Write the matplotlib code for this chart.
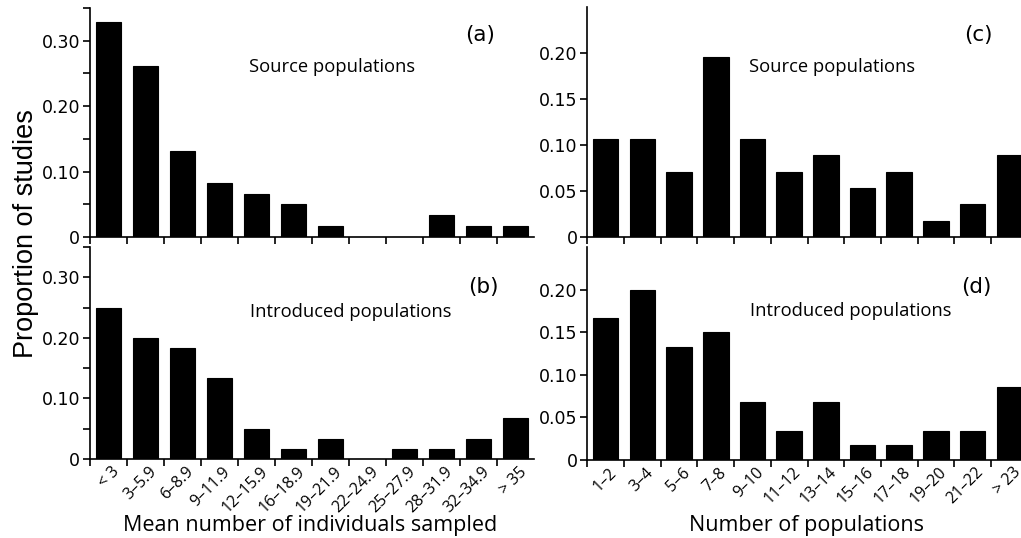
import matplotlib
matplotlib.use("Agg")
from matplotlib import pyplot as plt
from matplotlib.ticker import MultipleLocator
import matplotlib.transforms as mtransforms
import numpy as np

# panel (a)/(b): mean number of individuals sampled
size_labels = ["< 3", "3\u20135.9", "6\u20138.9", "9\u201311.9", "12\u201315.9", "16\u201318.9",
               "19\u201321.9", "22\u201324.9", "25\u201327.9", "28\u201331.9", "32\u201334.9", "> 35"]
size_source = [0.328, 0.262, 0.131, 0.082, 0.066, 0.050, 0.017, 0.0, 0.0, 0.034, 0.017, 0.017]
size_introduced = [0.250, 0.200, 0.183, 0.133, 0.050, 0.017, 0.033, 0.0, 0.017, 0.017, 0.033, 0.067]

# panel (c)/(d): number of populations
pop_labels = ["1\u20132", "3\u20134", "5\u20136", "7\u20138", "9\u201310", "11\u201312",
              "13\u201314", "15\u201316", "17\u201318", "19\u201320", "21\u201322", "> 23"]
pop_source = [0.107, 0.107, 0.071, 0.196, 0.107, 0.071, 0.089, 0.054, 0.071, 0.018, 0.036, 0.089]
pop_introduced = [0.167, 0.200, 0.133, 0.150, 0.068, 0.034, 0.068, 0.017, 0.017, 0.034, 0.034, 0.085]

ARIAL = "Liberation Sans"
WIDE = "DejaVu Sans"
MYRIAD = "Open Sans"
W, H = 1021, 538


def px_axes(fig, left, top, right, bottom):
    return fig.add_axes([left / W, 1 - bottom / H, (right - left) / W, (bottom - top) / H])


def draw_panel(ax, values, labels, ymax, major, minor, letter, title, title_xy, letter_xy, show_labels):
    n = len(values)
    centers = np.arange(n) + 0.5
    ax.bar(centers, values, width=0.7, color="black", edgecolor="black", linewidth=0.8)
    ax.set_xlim(0, n)
    ax.set_ylim(0, ymax)
    for s in ["top", "right"]:
        ax.spines[s].set_visible(False)
    for s in ["left", "bottom"]:
        ax.spines[s].set_linewidth(1.2)

    # ticks on bin edges, labels at bin centres
    ax.set_xticks(np.arange(n), minor=True)
    ax.set_xticks(centers)
    ax.tick_params(axis="x", which="minor", length=5, width=1.2, direction="out")
    ax.tick_params(axis="x", which="major", length=0, pad=2)
    if show_labels:
        ax.set_xticklabels(labels, rotation=45, ha="right", va="top",
                           rotation_mode="anchor", fontfamily=MYRIAD, fontsize=11.5)
        offset = mtransforms.ScaledTranslation(3 / 100, -2 / 100, ax.figure.dpi_scale_trans)
        for lab in ax.get_xticklabels():
            lab.set_transform(lab.get_transform() + offset)
    else:
        ax.set_xticklabels([])

    ax.yaxis.set_major_locator(MultipleLocator(major))
    if minor:
        ax.yaxis.set_minor_locator(MultipleLocator(minor))
    ticks = np.arange(0, ymax - 1e-9, major)
    ax.set_yticks(ticks)
    ax.set_yticklabels(["0"] + ["%.2f" % t for t in ticks[1:]], fontfamily=WIDE, fontsize=12.5)
    ax.tick_params(axis="y", which="major", length=5, width=1.2, pad=2)
    ax.tick_params(axis="y", which="minor", length=5, width=1.2)

    ax.text(*letter_xy, letter, transform=ax.transAxes, ha="center", va="center",
            fontfamily=WIDE, fontsize=15.5)
    ax.text(*title_xy, title, transform=ax.transAxes, ha="center", va="center",
            fontfamily=MYRIAD, fontsize=13.2)


fig = plt.figure(figsize=(W / 100, H / 100), dpi=100)

ax_a = px_axes(fig, 90, 8, 534, 237)
ax_b = px_axes(fig, 90, 247, 534, 459)
ax_c = px_axes(fig, 587.3, 7.3, 1027.7, 237.3)
ax_d = px_axes(fig, 587.3, 247.3, 1027.7, 459.7)

draw_panel(ax_a, size_source, size_labels, 0.35, 0.10, 0.05, "(a)", "Source populations",
           (0.546, 0.742), (0.878, 0.882), False)
draw_panel(ax_b, size_introduced, size_labels, 0.35, 0.10, 0.05, "(b)", "Introduced populations",
           (0.588, 0.695), (0.885, 0.813), True)
draw_panel(ax_c, pop_source, pop_labels, 0.25, 0.05, None, "(c)", "Source populations",
           (0.556, 0.742), (0.888, 0.880), False)
draw_panel(ax_d, pop_introduced, pop_labels, 0.25, 0.05, None, "(d)", "Introduced populations",
           (0.598, 0.700), (0.884, 0.815), True)

fig.text(26 / W, 1 - 234 / H, "Proportion of studies", rotation=90, ha="center", va="center",
         fontfamily=ARIAL, fontsize=19.5)
fig.text(310 / W, 1 - 526 / H, "Mean number of individuals sampled", ha="center", va="center",
         fontfamily=MYRIAD, fontsize=15.5)
fig.text(806 / W, 1 - 526 / H, "Number of populations", ha="center", va="center",
         fontfamily=MYRIAD, fontsize=15.5)

fig.savefig("out.png", dpi=100)
